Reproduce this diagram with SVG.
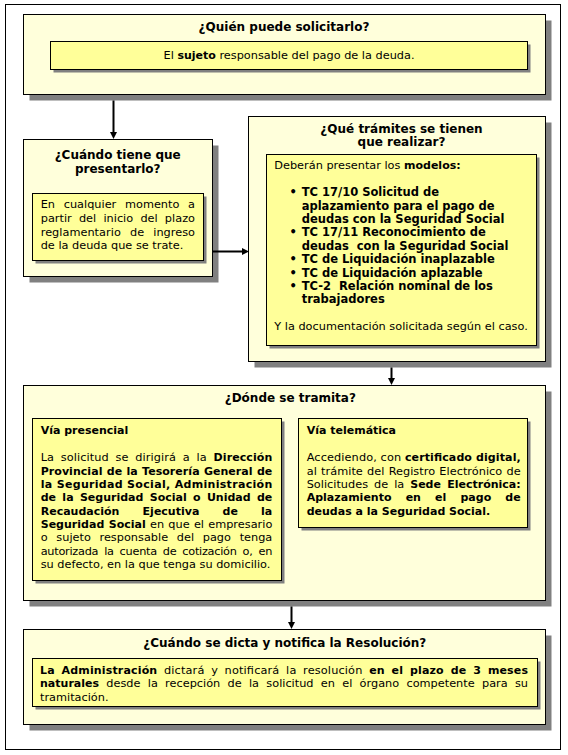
<svg xmlns="http://www.w3.org/2000/svg" width="568" height="755" viewBox="0 0 568 755">
<defs>
<style>
.frame{fill:#fff;stroke:#000;stroke-width:1}
.box{fill:#FFFFDB;stroke:#000;stroke-width:1}
.ibox{fill:#FFFF99;stroke:#000;stroke-width:1}
.sh{fill:#808080}
text{font-family:"DejaVu Sans",Verdana,sans-serif;font-size:11.3px;fill:#000}
.ttl{font-size:12px;font-weight:bold;text-anchor:middle}
.b{font-weight:bold;font-size:11px}
.bl{font-size:11.5px;font-weight:bold}
.c{text-anchor:middle}
#connectors line{stroke:#000;stroke-width:2}
#connectors polygon{fill:#000}
</style>
</defs>
<rect x="0" y="0" width="568" height="755" fill="#fff"/>
<rect class="frame" x="5.5" y="4.5" width="555" height="745"/>

<g id="node-quien">
<rect class="sh" x="29.5" y="20.5" width="522" height="80"/>
<rect class="box" x="23.5" y="14.5" width="522" height="80"/>
<text class="ttl" x="284" y="31">¿Quién puede solicitarlo?</text>
<rect class="sh" x="53.5" y="44.5" width="477" height="28"/>
<rect class="ibox" x="50.5" y="41.5" width="477" height="28"/>
<text class="c" x="289" y="58.5">El <tspan class="b">sujeto</tspan> responsable del pago de la deuda.</text>
</g>

<g id="node-cuando">
<rect class="sh" x="29.5" y="145.5" width="189" height="137"/>
<rect class="box" x="23.5" y="139.5" width="189" height="137"/>
<text class="ttl" x="117.7" y="158.8">¿Cuándo tiene que</text>
<text class="ttl" x="117.7" y="172.8">presentarlo?</text>
<rect class="sh" x="35.5" y="196.5" width="171" height="67"/>
<rect class="ibox" x="32.5" y="193.5" width="171" height="67"/>
<text x="40.7" y="208.3" word-spacing="5.1" textLength="154.3" lengthAdjust="spacing">En cualquier momento a</text>
<text x="40.7" y="222.3" word-spacing="3.6" textLength="154.3" lengthAdjust="spacing">partir del inicio del plazo</text>
<text x="40.7" y="235.7" word-spacing="5.5" textLength="154.3" lengthAdjust="spacing">reglamentario de ingreso</text>
<text x="40.7" y="249">de la deuda que se trate.</text>
</g>

<g id="node-tramites">
<rect class="sh" x="254.5" y="122.5" width="297" height="245"/>
<rect class="box" x="248.5" y="116.5" width="297" height="245"/>
<text class="ttl" x="401.5" y="132.8">¿Qué trámites se tienen</text>
<text class="ttl" x="401.5" y="146.2">que realizar?</text>
<rect class="sh" x="269.5" y="157.5" width="270" height="191"/>
<rect class="ibox" x="266.5" y="154.5" width="270" height="191"/>
<text x="274.3" y="169">Deberán presentar los <tspan class="b">modelos:</tspan></text>
<text class="bl c" x="293.3" y="196.2">•</text>
<text class="bl" x="301.7" y="196.2">TC 17/10 Solicitud de</text>
<text class="bl" x="301.7" y="209.6">aplazamiento para el pago de</text>
<text class="bl" x="301.7" y="223">deudas con la Seguridad Social</text>
<text class="bl c" x="293.3" y="236.4">•</text>
<text class="bl" x="301.7" y="236.4">TC 17/11 Reconocimiento de</text>
<text class="bl" x="301.7" y="249.8" xml:space="preserve">deudas  con la Seguridad Social</text>
<text class="bl c" x="293.3" y="263.2">•</text>
<text class="bl" x="301.7" y="263.2">TC de Liquidación inaplazable</text>
<text class="bl c" x="293.3" y="276.6">•</text>
<text class="bl" x="301.7" y="276.6">TC de Liquidación aplazable</text>
<text class="bl c" x="293.3" y="290">•</text>
<text class="bl" x="301.7" y="290" xml:space="preserve">TC-2  Relación nominal de los</text>
<text class="bl" x="301.7" y="303.4">trabajadores</text>
<text x="274.3" y="329.5">Y la documentación solicitada según el caso.</text>
</g>

<g id="node-donde">
<rect class="sh" x="29.5" y="391.5" width="522" height="215"/>
<rect class="box" x="23.5" y="385.5" width="522" height="215"/>
<text class="ttl" x="290.3" y="401.8">¿Dónde se tramita?</text>
<g id="node-presencial">
<rect class="sh" x="35.5" y="421.5" width="249" height="162"/>
<rect class="ibox" x="32.5" y="418.5" width="249" height="162"/>
<text class="b" x="40.7" y="434">Vía presencial</text>
<text x="40.7" y="461.3" word-spacing="3.1" textLength="231.6" lengthAdjust="spacing">La solicitud se dirigirá a la <tspan class="b">Dirección</tspan></text>
<text class="b" x="40.7" y="474.65" word-spacing="0.4" textLength="231.6" lengthAdjust="spacing">Provincial de la Tesorería General de</text>
<text class="b" x="40.7" y="488" textLength="231.6" lengthAdjust="spacing">la Seguridad Social, Administración</text>
<text class="b" x="40.7" y="501.35" word-spacing="2.5" textLength="231.6" lengthAdjust="spacing">de la Seguridad Social o Unidad de</text>
<text class="b" x="40.7" y="514.7" word-spacing="19.4" textLength="231.6" lengthAdjust="spacing">Recaudación Ejecutiva de la</text>
<text x="40.7" y="528.05" word-spacing="0.6" textLength="231.6" lengthAdjust="spacing"><tspan class="b">Seguridad Social</tspan> en que el empresario</text>
<text x="40.7" y="541.4" word-spacing="5.1" textLength="231.6" lengthAdjust="spacing">o sujeto responsable del pago tenga</text>
<text x="40.7" y="554.75" word-spacing="2.6" textLength="231.6" lengthAdjust="spacing">autorizada la cuenta de cotización o, en</text>
<text x="40.7" y="568.1">su defecto, en la que tenga su domicilio.</text>
</g>
<g id="node-telematica">
<rect class="sh" x="301.5" y="421.5" width="229" height="109"/>
<rect class="ibox" x="298.5" y="418.5" width="229" height="109"/>
<text class="b" x="306.7" y="434">Vía telemática</text>
<text x="306.7" y="461.3" textLength="214" lengthAdjust="spacing">Accediendo, con <tspan class="b">certificado digital,</tspan></text>
<text x="306.7" y="474.65" word-spacing="0.6" textLength="214" lengthAdjust="spacing">al trámite del Registro Electrónico de</text>
<text x="306.7" y="488" word-spacing="2.4" textLength="214" lengthAdjust="spacing">Solicitudes de la <tspan class="b">Sede Electrónica:</tspan></text>
<text class="b" x="306.7" y="501.35" word-spacing="10.3" textLength="214" lengthAdjust="spacing">Aplazamiento en el pago de</text>
<text class="b" x="306.7" y="514.7">deudas a la Seguridad Social.</text>
</g>
</g>

<g id="node-resolucion">
<rect class="sh" x="29.5" y="635.5" width="522" height="95"/>
<rect class="box" x="23.5" y="629.5" width="522" height="95"/>
<text class="ttl" x="284.8" y="646.8">¿Cuándo se dicta y notifica la Resolución?</text>
<rect class="sh" x="35.5" y="661.5" width="505" height="48"/>
<rect class="ibox" x="32.5" y="658.5" width="505" height="48"/>
<text x="40" y="674" word-spacing="2.9" textLength="488" lengthAdjust="spacing"><tspan class="b">La Administración</tspan> dictará y notificará la resolución <tspan class="b">en el plazo de 3 meses</tspan></text>
<text x="40" y="687.3" word-spacing="3.7" textLength="488" lengthAdjust="spacing"><tspan class="b">naturales</tspan> desde la recepción de la solicitud en el órgano competente para su</text>
<text x="40" y="701">tramitación.</text>
</g>

<g id="connectors">
<line x1="113.5" y1="100.5" x2="113.5" y2="133"/>
<polygon points="110,132 117,132 113.5,139"/>
<line x1="212.5" y1="251.5" x2="243" y2="251.5"/>
<polygon points="242,248 242,255 249,251.5"/>
<line x1="391.5" y1="367.5" x2="391.5" y2="379"/>
<polygon points="388,378 395,378 391.5,385"/>
<line x1="291.5" y1="606.5" x2="291.5" y2="623"/>
<polygon points="288,622 295,622 291.5,629"/>
</g>
</svg>
